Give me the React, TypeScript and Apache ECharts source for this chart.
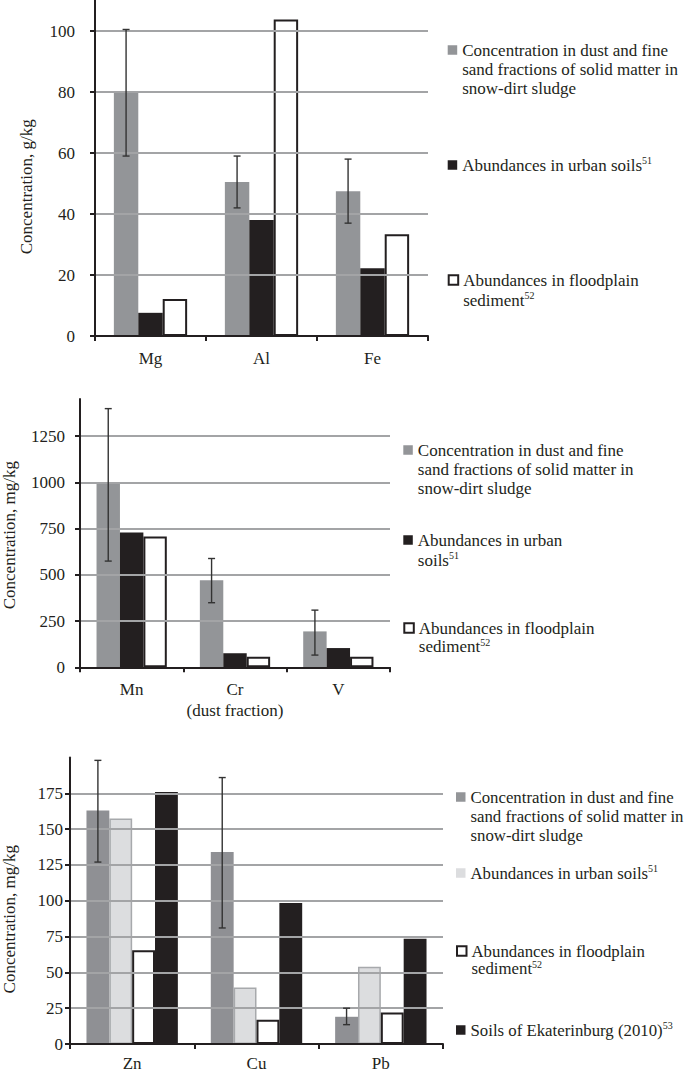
import React, { useEffect, useRef } from 'react';
import * as echarts from 'echarts';

// ---------- data ----------
const S_DUST = 'Concentration in dust and fine sand fractions of solid matter in snow-dirt sludge';
const S_URBAN = 'Abundances in urban soils';
const S_FLOOD = 'Abundances in floodplain sediment';
const S_EKAT = 'Soils of Ekaterinburg (2010)';

// Panel 1 (g/kg)
const CATS_1 = ['Mg', 'Al', 'Fe'];
const DUST_1 = [80, 50.5, 47.5];
const DUST_1_LOW = [59, 42, 37];
const DUST_1_HIGH = [100.5, 59, 58];
const URBAN_1 = [7.6, 38, 22.2];
const FLOOD_1 = [12.1, 103.8, 33.4];
const Y_TICKS_1 = [0, 20, 40, 60, 80, 100];
const Y_MAX_1 = 110;

// Panel 2 (mg/kg)
const CATS_2 = ['Mn', 'Cr\n(dust fraction)', 'V'];
const DUST_2 = [990, 470, 194];
const DUST_2_LOW = [574, 349, 66];
const DUST_2_HIGH = [1398, 588, 309];
const URBAN_2 = [729, 76, 104];
const FLOOD_2 = [707, 57, 57];
const Y_TICKS_2 = [0, 250, 500, 750, 1000, 1250];
const Y_MAX_2 = 1450;

// Panel 3 (mg/kg)
const CATS_3 = ['Zn', 'Cu', 'Pb'];
const DUST_3 = [163, 134, 19];
const DUST_3_LOW = [127, 81, 13.5];
const DUST_3_HIGH = [198, 186, 25];
const URBAN_3 = [157.5, 39.5, 54];
const FLOOD_3 = [65.5, 17, 22];
const EKAT_3 = [176, 98.5, 73.5];
const Y_TICKS_3 = [0, 25, 50, 75, 100, 125, 150, 175];
const Y_MAX_3 = 200;

// legend texts (lines; [text, superscript])
const DUST_LINES: [string, string][] = [
  ['Concentration in dust and fine', ''],
  ['sand fractions of solid matter in', ''],
  ['snow-dirt sludge', ''],
];
const URBAN_LINES_1: [string, string][] = [['Abundances in urban soils', '51']];
const URBAN_LINES_2: [string, string][] = [['Abundances in urban', ''], ['soils', '51']];
const FLOOD_LINES: [string, string][] = [['Abundances in floodplain', ''], ['sediment', '52']];
const EKAT_LINES: [string, string][] = [['Soils of Ekaterinburg (2010)', '53']];

// ---------- styles ----------
const FONT = 'Liberation Serif';
const FS = 17;
const TXT = '#231f20';
const GRAY = '#939598';
const BLACK = '#231f20';
const LIGHT = '#dcdddf';
const GRID_LINE = '#a3a4a6';

const GAPS = [0.34, 0.32, 0.265];

function xAxis(gridIndex: number, cats: string[], margin: number, lh: number) {
  return {
    type: 'category',
    gridIndex,
    data: cats,
    z: 4,
    axisLine: { show: true, lineStyle: { color: TXT, width: 2 } },
    axisTick: { show: true, length: 5, inside: false, lineStyle: { color: TXT, width: 2 } },
    axisLabel: { interval: 0, fontFamily: FONT, fontSize: FS, color: TXT, margin, lineHeight: lh },
    splitLine: { show: false },
  };
}

function yAxis(gridIndex: number, max: number, interval: number, ticks: number[], name: string, nameGap: number, namePad: number, margin: number) {
  return {
    type: 'value',
    gridIndex,
    min: 0,
    max,
    interval,
    z: 4,
    name,
    nameLocation: 'middle',
    nameRotate: 90,
    nameGap,
    nameTextStyle: { fontFamily: FONT, fontSize: FS, lineHeight: 17, color: TXT, padding: [0, namePad, 0, 0] },
    axisLine: { show: true, lineStyle: { color: TXT, width: 2 } },
    axisTick: { show: true, length: 5, inside: false, customValues: ticks, lineStyle: { color: TXT, width: 2 } },
    axisLabel: {
      fontFamily: FONT,
      fontSize: FS,
      color: TXT,
      margin,
      customValues: ticks,
      formatter: (v: number) => String(v),
    },
    splitLine: { show: true, lineStyle: { color: GRID_LINE, width: 2 } },
  };
}

function bar(name: string, idx: number, data: number[], style: any, gap: number) {
  return {
    type: 'bar',
    name,
    xAxisIndex: idx,
    yAxisIndex: idx,
    data,
    barGap: '0%',
    barCategoryGap: `${gap * 100}%`,
    itemStyle: style,
    z: 2,
  };
}

function errorSeries(idx: number, low: number[], high: number[], nBars: number, gap: number) {
  return {
    type: 'custom',
    xAxisIndex: idx,
    yAxisIndex: idx,
    silent: true,
    z: 6,
    data: low.map((l, i) => [i, l, high[i]]),
    renderItem: (params: any, api: any) => {
      const i = api.value(0);
      const bw = api.size([1, 0])[0];
      const barW = (bw * (1 - gap)) / nBars;
      const x = api.coord([i, 0])[0] - (nBars * barW) / 2 + barW / 2;
      const yl = api.coord([i, api.value(1)])[1];
      const yh = api.coord([i, api.value(2)])[1];
      const cap = 3.5;
      const style = { stroke: '#333333', lineWidth: 1.4 };
      return {
        type: 'group',
        children: [
          { type: 'line', shape: { x1: x, y1: yl, x2: x, y2: yh }, style },
          { type: 'line', shape: { x1: x - cap, y1: yh, x2: x + cap, y2: yh }, style },
          { type: 'line', shape: { x1: x - cap, y1: yl, x2: x + cap, y2: yl }, style },
        ],
      };
    },
  };
}

function legendItem(name: string, lines: [string, string][], left: number, y1: number, lh: number, fs: number, iconStyle?: any) {
  const n = lines.length;
  const text = lines.map(([t, s]) => `{t|${t}}` + (s ? `{sup|${s}}` : '')).join('\n');
  return {
    left,
    top: y1 - (n - 0.5) * lh,
    padding: 0,
    orient: 'vertical',
    icon: 'rect',
    itemWidth: 9.5,
    itemHeight: 9.5,
    selectedMode: false,
    data: [iconStyle ? { name, itemStyle: iconStyle } : name],
    formatter: () => text,
    textStyle: {
      fontFamily: FONT,
      fontSize: fs,
      color: TXT,
      lineHeight: lh,
      padding: [(n - 1) * lh, 0, 0, 0],
      rich: {
        t: { fontFamily: FONT, fontSize: fs, lineHeight: lh, color: TXT },
        sup: { fontFamily: FONT, fontSize: 10, lineHeight: 10, color: TXT, verticalAlign: 'top' },
      },
    },
  };
}

export default function App() {
  const ref = useRef<HTMLDivElement>(null);
  useEffect(() => {
    if (!ref.current) return;
    const chart = echarts.init(ref.current, null, { renderer: 'svg' });
    const whiteStyle = { color: '#ffffff', borderColor: BLACK, borderWidth: 2 };
    const option: any = {
      animation: false,
      backgroundColor: '#ffffff',
      textStyle: { fontFamily: FONT, fontSize: FS },
      grid: [
        { left: 95, top: 0.5, width: 333, height: 335.5, containLabel: false, outerBoundsMode: 'none' },
        { left: 80, top: 399, width: 310, height: 268.3, containLabel: false, outerBoundsMode: 'none' },
        { left: 70, top: 757.5, width: 373, height: 286.5, containLabel: false, outerBoundsMode: 'none' },
      ],
      xAxis: [xAxis(0, CATS_1, 12, 20), xAxis(1, CATS_2, 12, 21), xAxis(2, CATS_3, 12, 14)],
      yAxis: [
        yAxis(0, Y_MAX_1, 20, Y_TICKS_1, 'Concentration, g/kg', 60, 37, 20),
        yAxis(1, Y_MAX_2, 250, Y_TICKS_2, 'Concentration, mg/kg', 62, 4, 15),
        yAxis(2, Y_MAX_3, 25, Y_TICKS_3, 'Concentration, mg/kg', 52, 37, 7),
      ],
      legend: [
        legendItem(S_DUST, DUST_LINES, 447.7, 50, 19, 17),
        legendItem(S_URBAN, URBAN_LINES_1, 447.7, 165, 19, 17),
        legendItem(S_FLOOD, FLOOD_LINES, 447.7, 280, 20, 17),

        legendItem(S_DUST, DUST_LINES, 403.3, 450, 19, 17),
        legendItem(S_URBAN, URBAN_LINES_2, 403.3, 540, 20, 17),
        legendItem(S_FLOOD, FLOOD_LINES, 403.3, 628, 18.5, 17),

        legendItem(S_DUST, DUST_LINES, 456, 797, 19, 16.8),
        legendItem(S_URBAN, URBAN_LINES_1, 456, 873, 19, 16.8, { color: LIGHT, borderWidth: 0 }),
        legendItem(S_FLOOD, FLOOD_LINES, 456, 951, 17, 16.8),
        legendItem(S_EKAT, EKAT_LINES, 456, 1030, 19, 16.8),
      ],
      series: [
        bar(S_DUST, 0, DUST_1, { color: GRAY }, GAPS[0]),
        bar(S_URBAN, 0, URBAN_1, { color: BLACK }, GAPS[0]),
        bar(S_FLOOD, 0, FLOOD_1, whiteStyle, GAPS[0]),
        errorSeries(0, DUST_1_LOW, DUST_1_HIGH, 3, GAPS[0]),

        bar(S_DUST, 1, DUST_2, { color: GRAY }, GAPS[1]),
        bar(S_URBAN, 1, URBAN_2, { color: BLACK }, GAPS[1]),
        bar(S_FLOOD, 1, FLOOD_2, whiteStyle, GAPS[1]),
        errorSeries(1, DUST_2_LOW, DUST_2_HIGH, 3, GAPS[1]),

        bar(S_DUST, 2, DUST_3, { color: '#8f9094' }, GAPS[2]),
        bar(S_URBAN, 2, URBAN_3, { color: LIGHT, borderColor: '#a7a9ac', borderWidth: 1.5 }, GAPS[2]),
        bar(S_FLOOD, 2, FLOOD_3, whiteStyle, GAPS[2]),
        bar(S_EKAT, 2, EKAT_3, { color: BLACK }, GAPS[2]),
        errorSeries(2, DUST_3_LOW, DUST_3_HIGH, 4, GAPS[2]),
      ],
    };
    chart.setOption(option);
    return () => chart.dispose();
  }, []);
  return <div ref={ref} style={{ position: 'absolute', left: 0, top: 0, width: 685, height: 1071 }} />;
}
